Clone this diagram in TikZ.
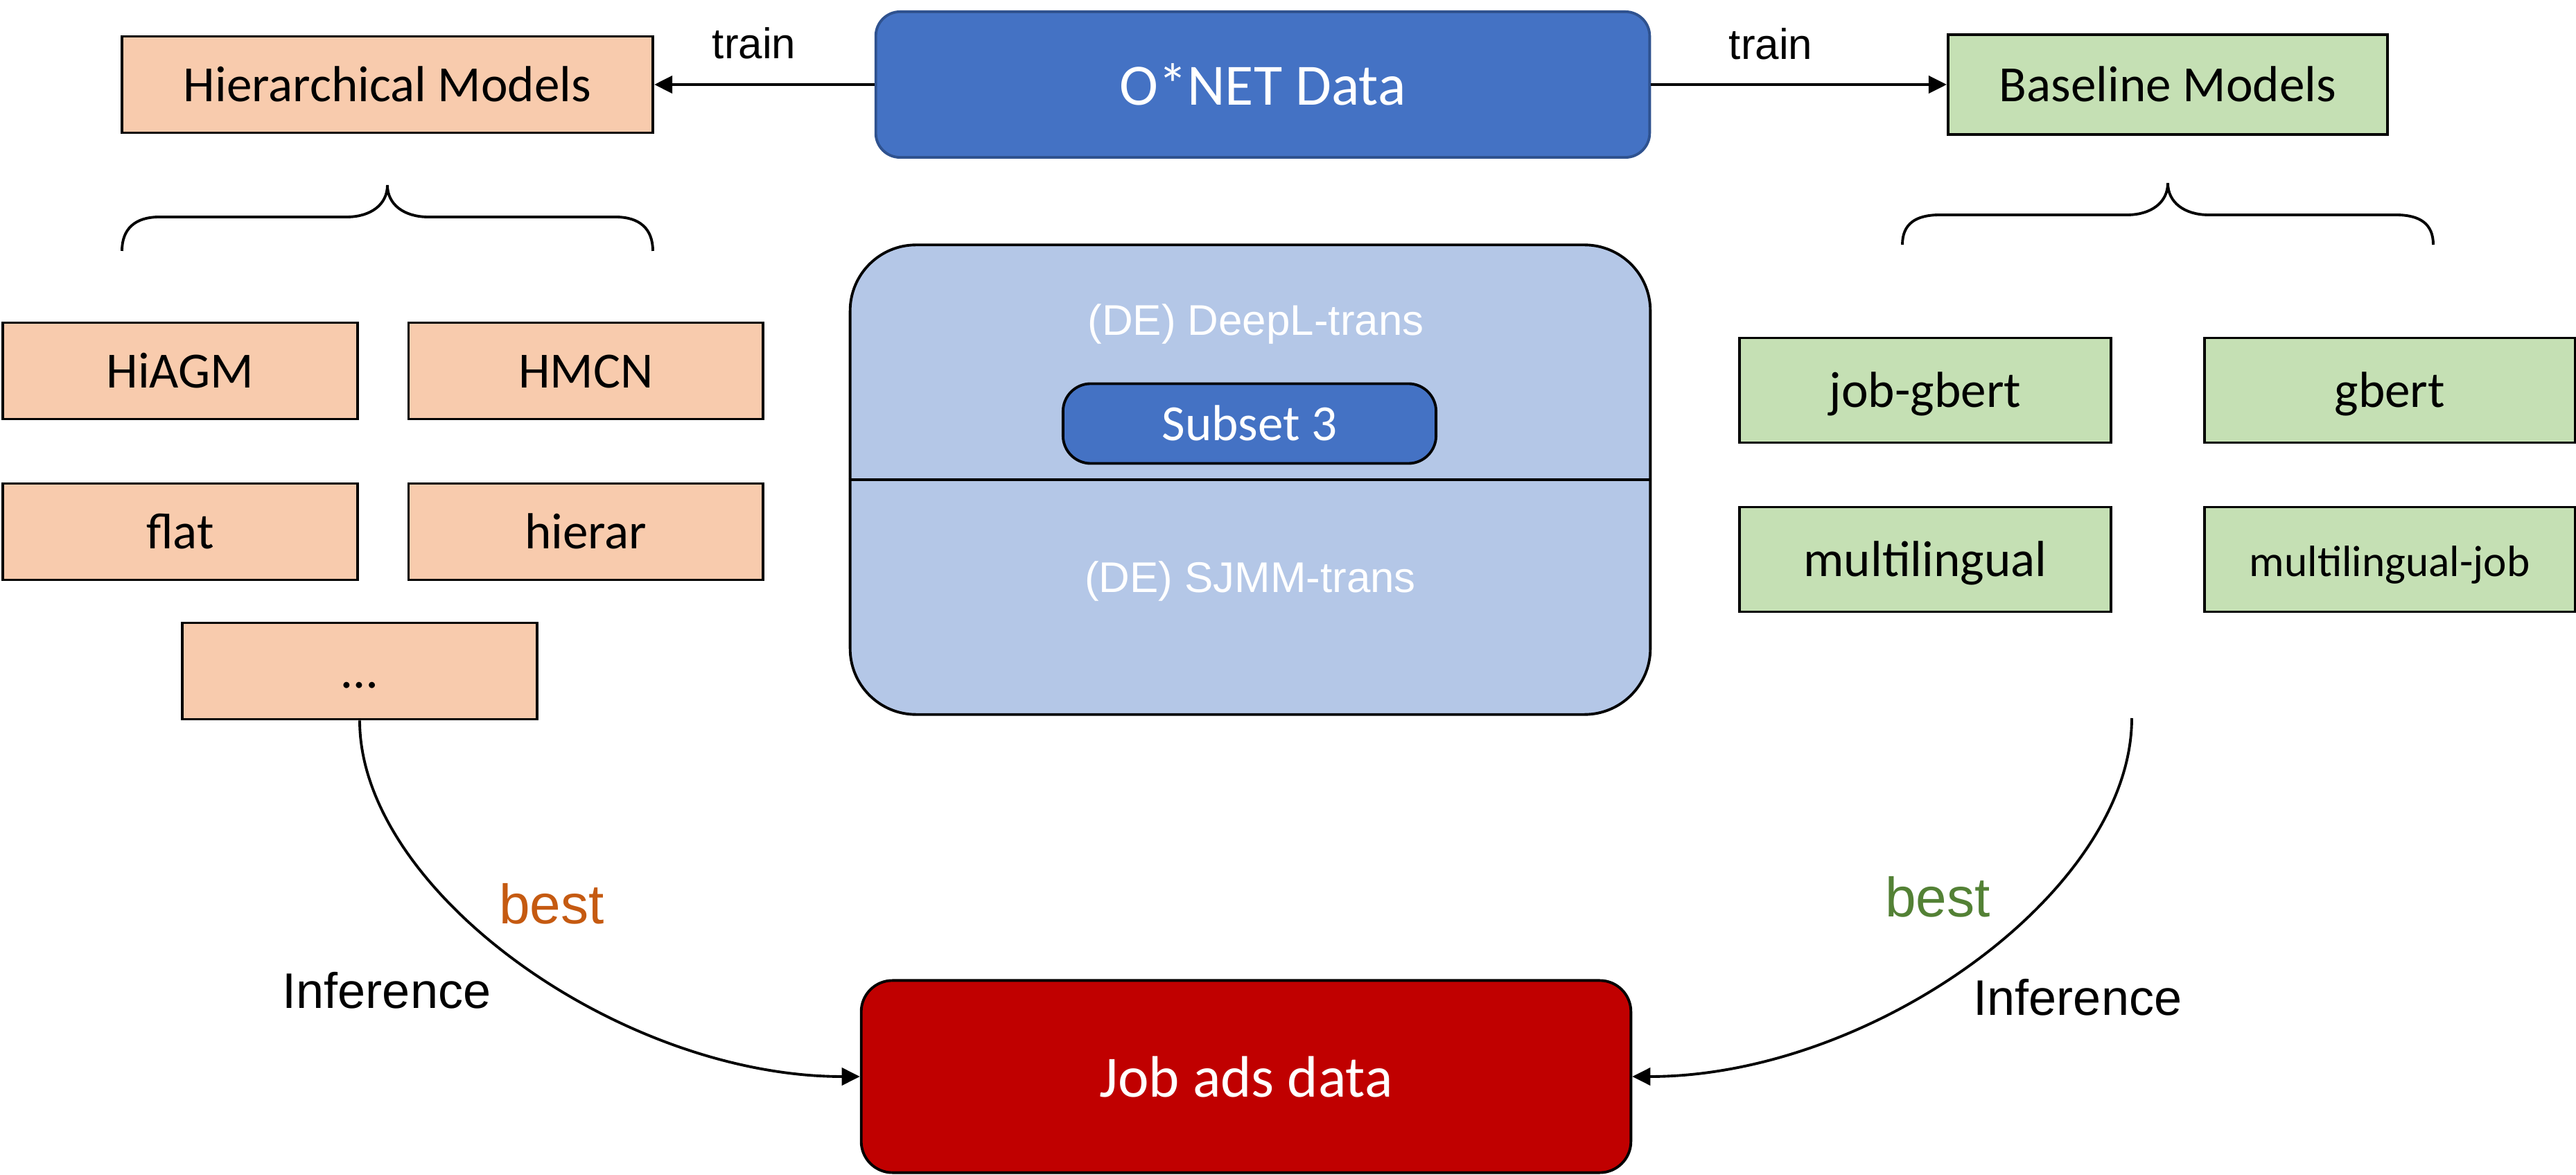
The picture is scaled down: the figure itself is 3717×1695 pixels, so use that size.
\documentclass[tikz,border=0pt]{standalone}
\usepackage{fontspec}
\setmainfont{Carlito}
\newfontfamily\arialfont{Liberation Sans}
\usepackage{xcolor}
\usepackage{tikz}
\usetikzlibrary{arrows.meta,positioning,calc}
\definecolor{jobPeach}{HTML}{F8CBAD}
\definecolor{jobSage}{HTML}{C5E0B4}
\definecolor{jobBlue}{HTML}{4472C4}
\definecolor{jobBlueEdge}{HTML}{2F528F}
\definecolor{jobSky}{HTML}{B4C7E7}
\definecolor{jobRed}{HTML}{C00000}
\definecolor{jobRust}{HTML}{C55A11}
\definecolor{jobMoss}{HTML}{538135}

\begin{document}
\begin{tikzpicture}[
  x=.01cm,y=-.01cm,
  box/.style={draw=black,line width=1.1pt,inner sep=0pt,text height=.66cm,text depth=.17cm,
    font=\fontsize{20.8}{25}\selectfont},
  hierbox/.style={box,fill=jobPeach,minimum width=5.11cm,minimum height=1.39cm},
  basebox/.style={box,fill=jobSage,minimum width=5.35cm,minimum height=1.51cm},
  databox/.style={box,text=white,font=\fontsize{24}{29}\selectfont,text height=.75cm,text depth=.17cm},
  flow/.style={line width=1.1pt,-{Triangle[length=.26cm,width=.25cm]}},
  brace/.style={line width=1.1pt},
  lab/.style={font=\arialfont\fontsize{17.6}{21}\selectfont,anchor=base},
  infer/.style={font=\arialfont\fontsize{20.5}{25}\selectfont,anchor=base},
  pick/.style={font=\arialfont\fontsize{22.8}{27}\selectfont,anchor=base}
]
  \useasboundingbox (0,0) rectangle (3717,1695);

  % top row
  \node[databox,fill=jobBlue,draw=jobBlueEdge,rounded corners=.35cm,
    minimum width=11.16cm,minimum height=2.1cm] (onet) at (1822,122) {O*NET Data};
  \node[box,fill=jobPeach,minimum width=7.66cm,minimum height=1.39cm] (hier) at (559,122) {Hierarchical Models};
  \node[box,fill=jobSage,minimum width=6.34cm,minimum height=1.44cm] (base) at (3128,122) {Baseline Models};
  \draw[flow] (onet.west) -- (hier.east);
  \draw[flow] (onet.east) -- (base.west);
  \node[lab] (trainl) at (1088,85) {train};
  \node[lab] (trainr) at (2555,86) {train};

  % braces
  \draw[brace] (176,362) .. controls (176,330) and (195,313) .. (230,313) -- (500,313)
    .. controls (535,313) and (559,295) .. (559,267) .. controls (559,295) and (583,313) .. (618,313)
    -- (888,313) .. controls (923,313) and (942,330) .. (942,362);
  \draw[brace] (2745,353) .. controls (2745,323) and (2764,310) .. (2799,310) -- (3069,310)
    .. controls (3104,310) and (3128,292) .. (3128,264) .. controls (3128,292) and (3152,310) .. (3187,310)
    -- (3457,310) .. controls (3492,310) and (3511,323) .. (3511,353);

  % hierarchical models
  \node[hierbox] (hiagm) at (260,535) {HiAGM};
  \node[hierbox,right=.7cm of hiagm] (hmcn) {HMCN};
  \node[hierbox,below=.89cm of hiagm] (flat) {flat};
  \node[hierbox,below=.89cm of hmcn] (hierar) {hierar};
  \node[hierbox] (dots) at (519,968) {…};

  % baseline models
  \node[basebox] (jobgbert) at (2778,563) {job-gbert};
  \node[basebox,right=1.31cm of jobgbert] (gbert) {gbert};
  \node[basebox,below=.89cm of jobgbert] (multi) {multilingual};
  \node[basebox,below=.89cm of gbert,font=\fontsize{18}{22}\selectfont] (multijob) {multilingual-job};

  % translated corpora
  \node[box,fill=jobSky,rounded corners=.95cm,minimum width=11.54cm,minimum height=6.77cm] (corpus) at (1804,692) {};
  \draw[line width=1.1pt] (corpus.west) -- (corpus.east);
  \node[lab,text=white] (deepl) at (1812,484) {(DE) DeepL-trans};
  \node[databox,fill=jobBlue,rounded corners=.4cm,minimum width=5.38cm,minimum height=1.15cm,
    font=\fontsize{20.8}{25}\selectfont,text height=.66cm] (subset) at (1803,611) {Subset 3};
  \node[lab,text=white] (sjmm) at (1804,855) {(DE) SJMM-trans};

  % inference
  \node[databox,fill=jobRed,rounded corners=.45cm,minimum width=11.1cm,minimum height=2.77cm] (jobads) at (1798,1553) {Job ads data};
  \coordinate (rstart) at (3076,1036);
  \draw[flow] (dots.south) .. controls (519,1285) and (895,1553) .. (jobads.west);
  \draw[flow] (rstart) .. controls (3076,1285) and (2702,1553) .. (jobads.east);
  \node[pick,text=jobRust] (bestl) at (796,1333) {best};
  \node[infer] (infl) at (558,1454) {Inference};
  \node[pick,text=jobMoss] (bestr) at (2796,1322) {best};
  \node[infer] (infr) at (2998,1465) {Inference};
\end{tikzpicture}
\end{document}
